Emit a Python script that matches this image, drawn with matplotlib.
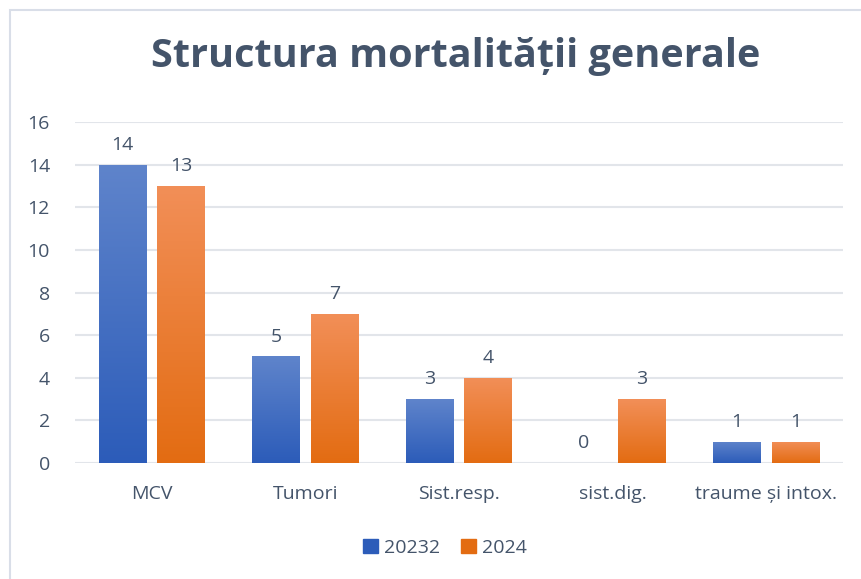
import matplotlib
matplotlib.use("Agg")
import matplotlib.pyplot as plt
import numpy as np
from matplotlib.colors import LinearSegmentedColormap
from matplotlib.patches import Rectangle

categories = ["MCV", "Tumori", "Sist.resp.", "sist.dig.", "traume și intox."]
series_names = ["20232", "2024"]
vals_a = [14, 5, 3, 0, 1]
vals_b = [13, 7, 4, 3, 1]
yticks = [0, 2, 4, 6, 8, 10, 12, 14, 16]

text_col = "#44546A"
grad_a = ("#5F84CB", "#2C5CB9")   # top, bottom
grad_b = ("#F28F58", "#E36C12")

plt.rcParams['font.family'] = ['Open Sans', 'DejaVu Sans']

W, H = 861, 579
fig = plt.figure(figsize=(W / 100, H / 100), dpi=100)
fig.patches.append(Rectangle((10 / W, -0.1), 1.2, (H - 10) / H + 0.1,
                             transform=fig.transFigure, fill=False,
                             edgecolor="#D9DEE8", linewidth=1.5))

ax = fig.add_axes([75 / W, (H - 463) / H, (843 - 75) / W, (463 - 122) / H])

x = np.arange(len(categories))
bw = 0.31
fs = 14


def grad_bars(xs, vals, cols):
    cmap = LinearSegmentedColormap.from_list("g", [cols[1], cols[0]])
    bars = ax.bar(xs, vals, width=bw, color=cols[0], zorder=2)
    grad = np.linspace(0, 1, 256).reshape(-1, 1)
    for b, v in zip(bars, vals):
        if v <= 0:
            continue
        x0 = b.get_x()
        im = ax.imshow(grad, cmap=cmap, origin="lower", aspect="auto",
                       extent=[x0, x0 + bw, 0, v], zorder=3)
        im.set_clip_path(b)
    return bars


d = 0.19
bars_a = grad_bars(x - d, vals_a, grad_a)
bars_b = grad_bars(x + d, vals_b, grad_b)

for xs, vals in ((x - d, vals_a), (x + d, vals_b)):
    for xi, v in zip(xs, vals):
        ax.text(xi, v + 0.5, str(v), ha="center", va="bottom",
                fontsize=fs, color=text_col)

ax.set_xlim(-0.5, len(categories) - 0.5)
ax.set_ylim(0, 16)
ax.set_yticks(yticks)
ax.set_xticks(x)
ax.set_xticklabels(categories)
ax.tick_params(axis="both", length=0, labelsize=fs, labelcolor=text_col)
ax.tick_params(axis="x", pad=16)
ax.tick_params(axis="y", pad=18)
ax.yaxis.grid(True, color="#E2E5EA", linewidth=1.5, zorder=0)
ax.set_axisbelow(True)
for s in ax.spines.values():
    s.set_visible(False)

fig.text(456 / W, 1 - 57 / H, "Structura mortalității generale", ha="center",
         va="center", fontsize=28.5, fontweight="bold", color=text_col)

leg = fig.legend([Rectangle((0, 0), 1, 1, color=grad_a[1]),
                  Rectangle((0, 0), 1, 1, color=grad_b[1])], series_names,
                 loc="center", bbox_to_anchor=(445 / W, 1 - 548 / H), ncol=2,
                 frameon=False, fontsize=fs, handlelength=0.75,
                 handleheight=0.75, handletextpad=0.3, columnspacing=1.1)
for t in leg.get_texts():
    t.set_color(text_col)

fig.savefig("out.png", dpi=100)
